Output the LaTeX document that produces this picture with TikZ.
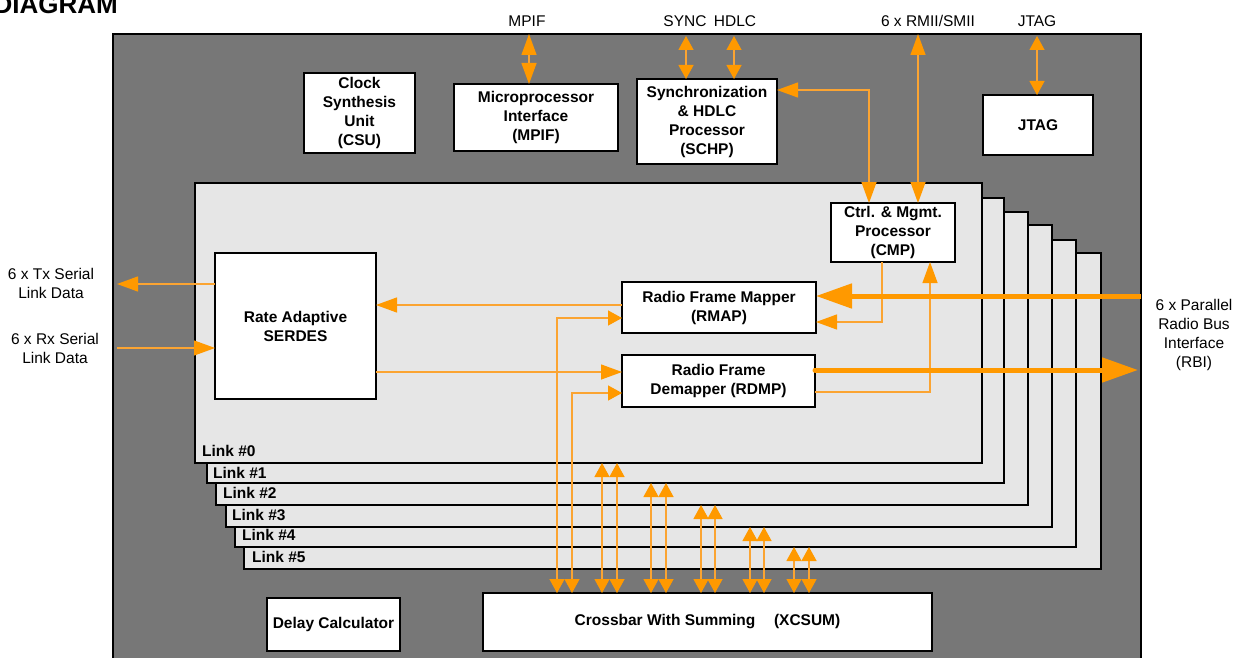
\documentclass[tikz,border=0pt]{standalone}
\usepackage{fontspec}
\setmainfont{Liberation Sans}
\usetikzlibrary{arrows.meta}
\definecolor{orA}{HTML}{FF9900}
\definecolor{orL}{HTML}{FBA432}
\definecolor{darkbg}{HTML}{777777}
\definecolor{linkfill}{HTML}{E6E6E6}
\tikzset{
  BH/.tip={Triangle[length=21pt,width=15pt,color=orA]},
  SH/.tip={Triangle[length=14pt,width=15pt,color=orA]},
  XH/.tip={Triangle[length=36pt,width=24pt,color=orA]},
}
\begin{document}
\begin{tikzpicture}[x=1pt,y=-1pt,
  blk/.style={draw=black,line width=2.6pt,fill=white,inner sep=0pt,outer sep=0pt,align=center,
    font=\bfseries\fontsize{15.5}{19}\selectfont},
  lbl/.style={inner sep=0pt,align=center,font=\fontsize{15.5}{19}\selectfont},
  linkbox/.style={draw=black,line width=2.6pt,fill=linkfill,inner sep=0pt,outer sep=0pt,anchor=north west},
  linklbl/.style={inner sep=0pt,anchor=west,font=\bfseries\fontsize{15.5}{19}\selectfont},
  wire/.style={draw=orL,line width=1.3pt},
  thickw/.style={draw=orA,line width=5pt},
]
\useasboundingbox (0,0) rectangle (1236,658);

% title (cut by the page edge, as in the reference)
\node[anchor=base east,inner sep=0pt,font=\bfseries\fontsize{26}{30}\selectfont] (title) at (118,14) {DIAGRAM};

% chip outline
\node[draw=black,line width=2.6pt,fill=darkbg,inner sep=0pt,outer sep=0pt,anchor=north west,
      minimum width=1028pt,minimum height=660pt] (chip) at (113,34) {};

% link stack (back to front)
\node[linkbox,minimum width=857pt,minimum height=316pt] (L5) at (244,253) {};
\node[linkbox,minimum width=841pt,minimum height=307pt] (L4) at (235,240) {};
\node[linkbox,minimum width=826pt,minimum height=302pt] (L3) at (226,225) {};
\node[linkbox,minimum width=812pt,minimum height=293pt] (L2) at (216,212) {};
\node[linkbox,minimum width=797pt,minimum height=285pt] (L1) at (207,198) {};
\node[linkbox,minimum width=787pt,minimum height=280pt] (L0) at (195,183) {};

\node[linklbl] (t0) at (202,451) {Link \#0};
\node[linklbl] (t1) at (213,473) {Link \#1};
\node[linklbl] (t2) at (223,493) {Link \#2};
\node[linklbl] (t3) at (232,515) {Link \#3};
\node[linklbl] (t4) at (242,535) {Link \#4};
\node[linklbl] (t5) at (252,557) {Link \#5};

% blocks
\node[blk,minimum width=111pt,minimum height=80pt] (csu) at (359.5,113) {Clock\\Synthesis\\Unit\\(CSU)};
\node[blk,minimum width=164pt,minimum height=67pt] (mpif) at (536,117.5) {Microprocessor\\Interface\\(MPIF)};
\node[blk,minimum width=140pt,minimum height=85pt] (schp) at (707,121.5) {Synchronization\\\& HDLC\\Processor\\(SCHP)};
\node[blk,minimum width=110pt,minimum height=60pt] (jtag) at (1038,125) {JTAG};
\node[blk,minimum width=124pt,minimum height=59pt] (cmp) at (893,232.5) {Ctrl. \& Mgmt.\\Processor\\(CMP)};
\node[blk,minimum width=161pt,minimum height=146pt] (serdes) at (295.5,326) {Rate Adaptive\\SERDES};
\node[blk,minimum width=194pt,minimum height=51pt] (rmap) at (719,307.5) {Radio Frame Mapper\\(RMAP)};
\node[blk,minimum width=193pt,minimum height=52pt] (rdmp) at (718.5,381) {Radio Frame\\Demapper (RDMP)};
\node[blk,minimum width=449pt,minimum height=58pt] (xcsum) at (707.5,622) {Crossbar With Summing\hspace{1.2em}(XCSUM)};
\node[blk,minimum width=133pt,minimum height=53pt] (delay) at (333.5,624.5) {Delay Calculator};

% outside labels
\node[lbl] (lmpif) at (527,21) {MPIF};
\node[lbl] (lsync) at (685,21) {SYNC};
\node[lbl] (lhdlc) at (735,21) {HDLC};
\node[lbl] (lrmii) at (928,21) {6 x RMII/SMII};
\node[lbl] (ljtag) at (1037,21) {JTAG};
\node[lbl] (ltx) at (51,283) {6 x Tx Serial\\Link Data};
\node[lbl] (lrx) at (55,348) {6 x Rx Serial\\Link Data};
\node[lbl] (lrbi) at (1194,334.5) {6 x Parallel\\Radio Bus\\Interface\\(RBI)};

% top connectors
\coordinate (mpifT) at (529,34);
\draw[wire,BH-BH] (mpifT) -- (mpifT |- mpif.north);
\coordinate (syncT) at (686,36);
\draw[wire,SH-SH] (syncT) -- (syncT |- schp.north);
\coordinate (hdlcT) at (734,36);
\draw[wire,SH-SH] (hdlcT) -- (hdlcT |- schp.north);
\coordinate (jtagT) at (1037,36);
\draw[wire,SH-SH] (jtagT) -- (jtagT |- jtag.north);
\coordinate (rmiiT) at (918,34);
\draw[wire,BH-BH] (rmiiT) -- (rmiiT |- cmp.north);
\coordinate (sc) at (869,90);
\draw[wire,BH-BH] (schp.east |- sc) -- (sc) -- (sc |- cmp.north);

% serial links
\coordinate (txE) at (117,284);
\draw[wire,-BH] (serdes.west |- txE) -- (txE);
\coordinate (rxS) at (117,348);
\draw[wire,-BH] (rxS) -- (rxS -| serdes.west);

% SERDES <-> mapper / demapper
\coordinate (y305) at (0,305);
\draw[wire,-BH] (rmap.west |- y305) -- (serdes.east |- y305);
\coordinate (y372) at (0,372);
\draw[wire,-BH] (serdes.east |- y372) -- (rdmp.west |- y372);

% crossbar to mapper / demapper
\coordinate (xr) at (557,318);
\draw[wire,SH-SH] (xr |- xcsum.north) -- (xr) -- (xr -| rmap.west);
\coordinate (xd) at (572,393);
\draw[wire,SH-SH] (xd |- xcsum.north) -- (xd) -- (xd -| rdmp.west);

% CMP connections
\coordinate (cr) at (882,322);
\draw[wire,-BH] (cr |- cmp.south) -- (cr) -- (cr -| rmap.east);
\coordinate (rc) at (930,392);
\draw[wire,-BH] (rc -| rdmp.east) -- (rc) -- (rc |- cmp.south);

% radio bus interface
\coordinate (rbiIn) at (1141,296);
\draw[thickw,-XH] (rbiIn) -- (rbiIn -| rmap.east);
\coordinate (rbiOut) at (1138,370);
\draw[thickw,-XH,line cap=round] (rbiOut -| rdmp.east) -- (rbiOut);

% crossbar to links 1..5
\foreach \xa/\xb/\k in {602/617/0,651/666/1,701/715/2,750/764/3,794/809/4}{
  \coordinate (pa\k) at (\xa,593);
  \coordinate (pb\k) at (\xb,593);
  \draw[wire,SH-SH] (pa\k |- L\k.south) -- (pa\k |- xcsum.north);
  \draw[wire,SH-SH] (pb\k |- L\k.south) -- (pb\k |- xcsum.north);
}
\end{tikzpicture}
\end{document}
